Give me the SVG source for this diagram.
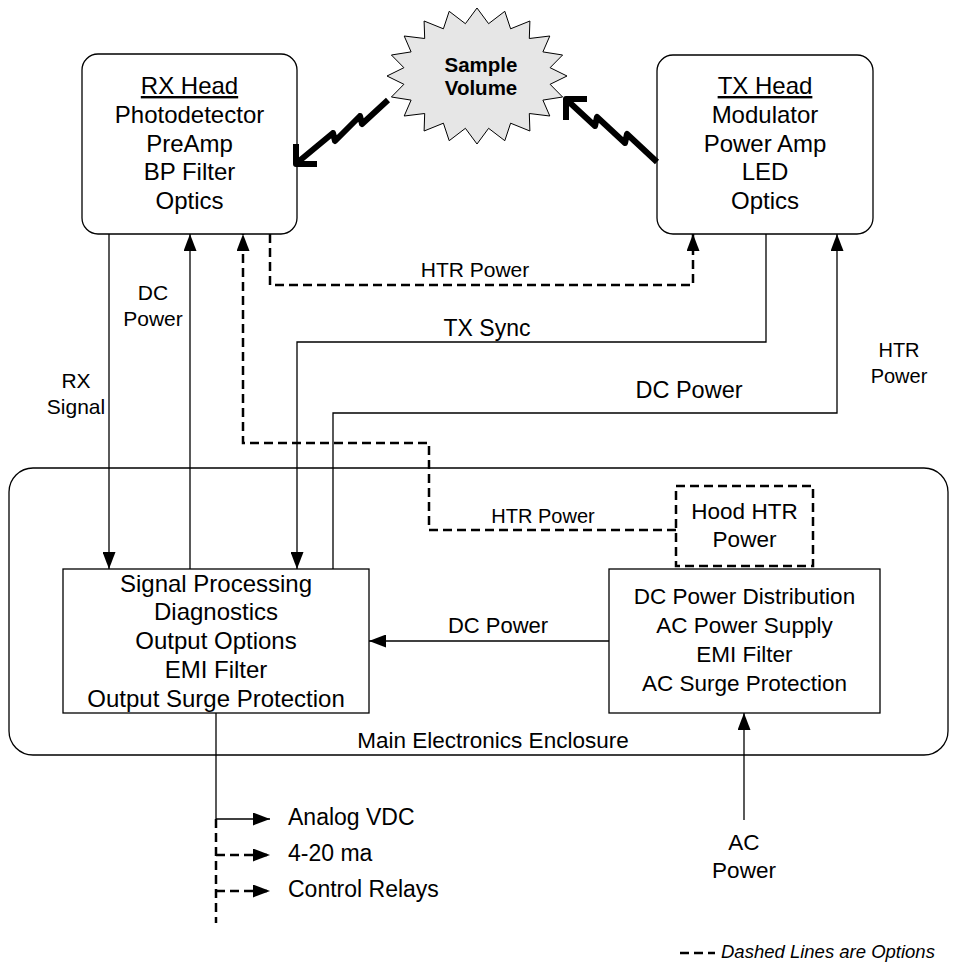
<svg xmlns="http://www.w3.org/2000/svg" width="954" height="963" viewBox="0 0 954 963">
<style>
.box{fill:#fff;stroke:#000;stroke-width:1.3}
.hbox{fill:none;stroke:#000;stroke-width:2.5;stroke-dasharray:9 5}
.t{font-family:"Liberation Sans",Arial,sans-serif;fill:#000;text-anchor:middle}
.s{text-anchor:start}
.ln{fill:none;stroke:#000;stroke-width:1.3}
.dash{fill:none;stroke:#000;stroke-width:2.5;stroke-dasharray:9 5}
.bolt{fill:none;stroke:#000;stroke-width:6;stroke-linejoin:round;stroke-linecap:butt}
</style>
<defs>
<marker id="ah" viewBox="0 0 17 13" refX="17" refY="6.5" markerWidth="17" markerHeight="13" markerUnits="userSpaceOnUse" orient="auto">
<path d="M0,0 L17,6.5 L0,13 z" fill="#000" stroke="none"/>
</marker>
</defs>

<g id="enclosure">
<rect x="9" y="468" width="939" height="287" rx="24" fill="none" stroke="#000" stroke-width="1.3"/>
<text class="t" x="493" y="748" font-size="22.5">Main Electronics Enclosure</text>
</g>

<g id="sample-volume">
<polygon points="567,76 550.1,84.3 562.6,97 542.9,100.1 549.8,116 529.3,113.5 529.9,131 510.6,123.2 504.8,140.7 488.6,128.3 477,144 465.4,128.3 449.2,140.7 443.4,123.2 424.1,131 424.7,113.5 404.2,116 411.1,100.1 391.4,97 403.9,84.3 387,76 403.9,67.7 391.4,55 411.1,51.9 404.2,36 424.7,38.5 424.1,21 443.4,28.8 449.2,11.3 465.4,23.7 477,8 488.6,23.7 504.8,11.3 510.6,28.8 529.9,21 529.3,38.5 549.8,36 542.9,51.9 562.6,55 550.1,67.7" fill="#e6e6e6" stroke="#000" stroke-width="1"/>
<text class="t" x="481" y="72" font-size="20.5" font-weight="bold">Sample</text>
<text class="t" x="481" y="95" font-size="20.5" font-weight="bold">Volume</text>
</g>

<g id="rx-head">
<rect class="box" x="82" y="54" width="215" height="180" rx="16"/>
<text class="t" x="189.5" y="94" font-size="24" text-decoration="underline">RX Head</text>
<text class="t" x="189.5" y="123" font-size="24">Photodetector</text>
<text class="t" x="189.5" y="152" font-size="24">PreAmp</text>
<text class="t" x="189.5" y="180" font-size="24">BP Filter</text>
<text class="t" x="189.5" y="209" font-size="24">Optics</text>
</g>

<g id="tx-head">
<rect class="box" x="657" y="55" width="216" height="179" rx="16"/>
<text class="t" x="765" y="94" font-size="24" text-decoration="underline">TX Head</text>
<text class="t" x="765" y="123" font-size="24">Modulator</text>
<text class="t" x="765" y="152" font-size="24">Power Amp</text>
<text class="t" x="765" y="180" font-size="24">LED</text>
<text class="t" x="765" y="209" font-size="24">Optics</text>
</g>

<g id="signal-processing">
<rect class="box" x="63" y="569" width="306" height="144"/>
<text class="t" x="216" y="592" font-size="24">Signal Processing</text>
<text class="t" x="216" y="620" font-size="24">Diagnostics</text>
<text class="t" x="216" y="649" font-size="24">Output Options</text>
<text class="t" x="216" y="678" font-size="24">EMI Filter</text>
<text class="t" x="216" y="707" font-size="24">Output Surge Protection</text>
</g>

<g id="dc-power-distribution">
<rect class="box" x="609" y="569" width="271" height="144"/>
<text class="t" x="744.5" y="604" font-size="22.5">DC Power Distribution</text>
<text class="t" x="744.5" y="633" font-size="22.5">AC Power Supply</text>
<text class="t" x="744.5" y="662" font-size="22.5">EMI Filter</text>
<text class="t" x="744.5" y="691" font-size="22.5">AC Surge Protection</text>
</g>

<g id="hood-htr-power">
<rect class="hbox" x="676" y="486" width="137" height="80"/>
<text class="t" x="744.5" y="519" font-size="22.5">Hood HTR</text>
<text class="t" x="744.5" y="547" font-size="22.5">Power</text>
</g>

<g id="connectors">
<polyline class="bolt" points="388,100 362,124 360,116 335,141 333,133 298,162"/>
<polyline class="bolt" points="296,144 296,164 317,164"/>
<polyline class="bolt" points="657,162 627,134 625,143 597,117 595,126 568,101"/>
<polyline class="bolt" points="566,120 566,99 587,99"/>

<path class="ln" d="M109,234 V569" marker-end="url(#ah)"/>
<path class="ln" d="M190,569 V234" marker-end="url(#ah)"/>
<path class="dash" d="M676,530 H429 V443 H243 V234" marker-end="url(#ah)"/>
<path class="dash" d="M270,234 V285 H693 V234" marker-end="url(#ah)"/>
<path class="ln" d="M766,234 V342 H297 V569" marker-end="url(#ah)"/>
<path class="ln" d="M333,569 V413 H837 V234" marker-end="url(#ah)"/>
<path class="ln" d="M609,641 H369" marker-end="url(#ah)"/>
<path class="ln" d="M744,820 V713" marker-end="url(#ah)"/>

<path class="ln" d="M216,713 V819"/>
<path class="dash" d="M216,819 V923"/>
<path class="ln" d="M216,819 H270" marker-end="url(#ah)"/>
<path class="dash" d="M216,855 H270" marker-end="url(#ah)"/>
<path class="dash" d="M216,891 H270" marker-end="url(#ah)"/>

<text class="t" x="475" y="277" font-size="21">HTR Power</text>
<text class="t" x="487" y="336" font-size="23">TX Sync</text>
<text class="t" x="689" y="398" font-size="23.5">DC Power</text>
<text class="t" x="899" y="357" font-size="20">HTR</text>
<text class="t" x="899" y="383" font-size="20">Power</text>
<text class="t" x="153" y="300" font-size="21">DC</text>
<text class="t" x="153" y="326" font-size="21">Power</text>
<text class="t" x="76" y="388" font-size="21">RX</text>
<text class="t" x="76" y="414" font-size="21">Signal</text>
<text class="t" x="543" y="523" font-size="20">HTR Power</text>
<text class="t" x="498" y="633" font-size="22">DC Power</text>
<text class="t" x="744" y="850" font-size="22.5">AC</text>
<text class="t" x="744" y="878" font-size="22.5">Power</text>
<text class="t s" x="288" y="825" font-size="23">Analog VDC</text>
<text class="t s" x="288" y="861" font-size="23">4-20 ma</text>
<text class="t s" x="288" y="897" font-size="23">Control Relays</text>
</g>

<g id="legend">
<path class="dash" d="M680,953 H715"/>
<text class="t s" x="721" y="958" font-size="18.5" font-style="italic">Dashed Lines are Options</text>
</g>
</svg>
